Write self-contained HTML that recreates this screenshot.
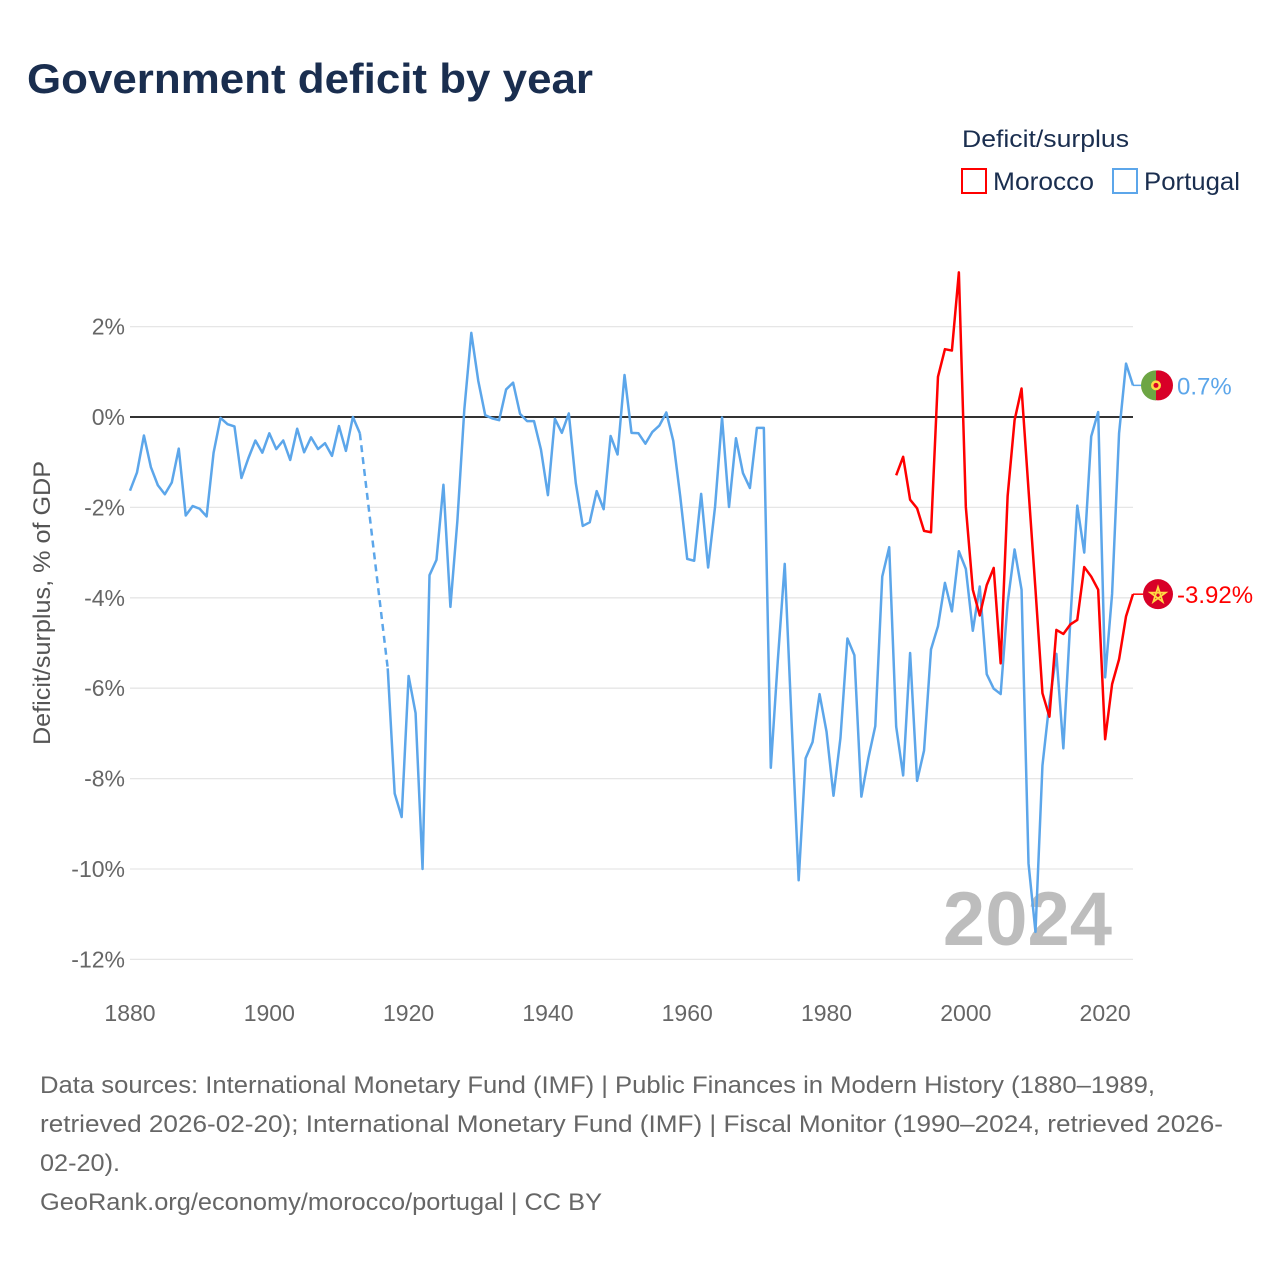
<!DOCTYPE html>
<html><head><meta charset="utf-8">
<style>
html,body{margin:0;padding:0;background:#fff;width:1280px;height:1280px;overflow:hidden;font-family:"Liberation Sans",sans-serif;}
svg text{font-family:"Liberation Sans",sans-serif;}
</style></head>
<body>
<svg id="chart" width="1280" height="1280" viewBox="0 0 1280 1280" xmlns="http://www.w3.org/2000/svg">
  <text x="27" y="93" font-size="42" font-weight="bold" fill="#1a2e4f" textLength="566" lengthAdjust="spacingAndGlyphs">Government deficit by year</text>
  <text x="962" y="147" font-size="24" fill="#1a2e4f" textLength="167" lengthAdjust="spacingAndGlyphs">Deficit/surplus</text>
  <g>
    <rect x="962" y="169" width="24" height="24" fill="none" stroke="#ff0000" stroke-width="2"/>
    <text x="993" y="190" font-size="25" fill="#1a2e4f" textLength="101" lengthAdjust="spacingAndGlyphs">Morocco</text>
  </g>
  <g>
    <rect x="1113" y="169" width="24" height="24" fill="none" stroke="#5ca6ea" stroke-width="2"/>
    <text x="1144" y="190" font-size="25" fill="#1a2e4f" textLength="96" lengthAdjust="spacingAndGlyphs">Portugal</text>
  </g>
  <g id="grid"></g>
  <g id="yticks"></g>
  <g id="xticks"></g>
  <text x="0" y="0" transform="translate(50,603) rotate(-90)" text-anchor="middle" font-size="24" fill="#555" textLength="284" lengthAdjust="spacingAndGlyphs">Deficit/surplus, % of GDP</text>
  <text x="1112" y="945" text-anchor="end" font-size="76" font-weight="bold" fill="#bdbdbd">2024</text>
  <g id="series"></g>
  <g id="ends"></g>
  <g font-size="24" fill="#666">
    <text x="40" y="1093" textLength="1115" lengthAdjust="spacingAndGlyphs">Data sources: International Monetary Fund (IMF) | Public Finances in Modern History (1880–1989,</text>
    <text x="40" y="1132" textLength="1183" lengthAdjust="spacingAndGlyphs">retrieved 2026-02-20); International Monetary Fund (IMF) | Fiscal Monitor (1990–2024, retrieved 2026-</text>
    <text x="40" y="1171" textLength="80" lengthAdjust="spacingAndGlyphs">02-20).</text>
    <text x="40" y="1210" textLength="562" lengthAdjust="spacingAndGlyphs">GeoRank.org/economy/morocco/portugal | CC BY</text>
  </g>
</svg>
<script>
const yTicks = [2,0,-2,-4,-6,-8,-10,-12];
const xTicks = [1880,1900,1920,1940,1960,1980,2000,2020];
const portugalStart = 1880;
const portugalValues = [
-1.63,-1.23,-0.41,-1.11,-1.51,-1.71,-1.45,-0.70,-2.18,-1.97,
-2.03,-2.20,-0.79,-0.02,-0.16,-0.21,-1.35,-0.91,-0.52,-0.79,
-0.36,-0.71,-0.52,-0.95,-0.26,-0.78,-0.45,-0.71,-0.58,-0.86,
-0.20,-0.75,0.00,-0.36,null,null,null,-5.56,-8.33,-8.85,
-5.73,-6.55,-10.0,-3.50,-3.16,-1.50,-4.20,-2.30,0.17,1.86,
0.80,0.04,-0.03,-0.07,0.61,0.76,0.07,-0.09,-0.09,-0.72,
-1.73,-0.04,-0.35,0.08,-1.46,-2.41,-2.33,-1.64,-2.04,-0.42,
-0.83,0.93,-0.35,-0.36,-0.59,-0.33,-0.19,0.10,-0.53,-1.76,
-3.14,-3.18,-1.70,-3.33,-1.98,-0.01,-1.99,-0.47,-1.24,-1.57,
-0.24,-0.24,-7.76,-5.40,-3.25,-6.80,-10.25,-7.55,-7.19,-6.13,
-6.96,-8.38,-7.10,-4.90,-5.27,-8.40,-7.55,-6.84,-3.53,-2.88,
-6.85,-7.93,-5.22,-8.05,-7.38,-5.14,-4.63,-3.67,-4.30,-2.97,
-3.36,-4.73,-3.75,-5.69,-6.01,-6.13,-4.11,-2.93,-3.82,-9.88,
-11.39,-7.71,-6.32,-5.24,-7.33,-4.51,-1.96,-3.00,-0.43,0.11,
-5.76,-3.91,-0.36,1.18,0.70];
const moroccoStart = 1990;
const moroccoValues = [
-1.29,-0.88,-1.83,-2.02,-2.52,-2.55,0.89,1.50,1.47,3.20,
-1.99,-3.82,-4.39,-3.72,-3.34,-5.45,-1.75,-0.07,0.63,-1.61,
-3.82,-6.11,-6.63,-4.71,-4.80,-4.59,-4.49,-3.32,-3.53,-3.82,
-7.13,-5.91,-5.36,-4.41,-3.92];
const portugalLabel = "0.7%";
const moroccoLabel = "-3.92%";

const NS = "http://www.w3.org/2000/svg";
const X0 = 130, X1 = 1133, YR0 = 1880, YR1 = 2024;
const xs = yr => X0 + (yr - YR0) * (X1 - X0) / (YR1 - YR0);
const ys = v => 417 - v * 45.2;
function mk(tag, attrs, parent){ const e=document.createElementNS(NS,tag); for(const k in attrs) e.setAttribute(k,attrs[k]); parent.appendChild(e); return e; }

const grid = document.getElementById('grid');
const yg = document.getElementById('yticks');
yTicks.forEach(t=>{
  const l = mk('line',{x1:X0,x2:X1,y1:ys(t),y2:ys(t),stroke:t===0?'#333':'#e6e6e6','stroke-width':t===0?2:1.3},grid);
  
  
  const tx = mk('text',{x:125,y:ys(t)+8,'text-anchor':'end','font-size':23,fill:'#666'},yg);
  tx.textContent = t + '%';
  
  
});
const xg = document.getElementById('xticks');
xTicks.forEach(t=>{
  const tx = mk('text',{x:xs(t),y:1021,'text-anchor':'middle','font-size':23,fill:'#666'},xg);
  tx.textContent = t;
  
  
});

const sg = document.getElementById('series');
function drawSeries(start, vals, color, name){
  let seg = [], lastPt = null, gap = false;
  const segs = [], dashes = [];
  vals.forEach((v,i)=>{
    if(v===null){ if(seg.length){segs.push(seg); seg=[];} gap=true; return; }
    const p=[xs(start+i), ys(v)];
    if(gap && lastPt){ dashes.push([lastPt,p]); gap=false; }
    seg.push(p); lastPt=p;
  });
  if(seg.length) segs.push(seg);
  segs.forEach(s=>{
    const pl = mk('polyline',{points:s.map(p=>p.join(',')).join(' '),fill:'none',stroke:color,'stroke-width':2.5,'stroke-linejoin':'round'},sg);
    
    
  });
  dashes.forEach(d=>{
    const dl = mk('line',{x1:d[0][0],y1:d[0][1],x2:d[1][0],y2:d[1][1],stroke:color,'stroke-width':2.5,'stroke-dasharray':'7,5'},sg);
    
    
  });
}
drawSeries(portugalStart, portugalValues, '#5ca6ea', 'portugal');
drawSeries(moroccoStart, moroccoValues, '#ff0000', 'morocco');

const eg = document.getElementById('ends');
function endMarker(v, color, label, name, flag){
  const y = ys(v), cx = 1158;
  mk('line',{x1:X1,x2:cx-15,y1:y,y2:y,stroke:color,'stroke-width':1.5},eg);
  const g = mk('g',{},eg);
  
  
  if(flag==='pt'){
    mk('circle',{cx:cx,cy:y,r:15,fill:'#d80027'},g);
    mk('path',{d:`M${cx-2} ${y-15} A15 15 0 0 0 ${cx-2} ${y+15} Z`,fill:'#6da544'},g);
    mk('circle',{cx:cx-2,cy:y,r:5,fill:'#ffda44'},g);
    mk('circle',{cx:cx-2,cy:y,r:2.5,fill:'#d80027'},g);
  } else {
    mk('circle',{cx:cx,cy:y,r:15,fill:'#d80027'},g);
    const pts=[];for(let i=0;i<5;i++){const a=-Math.PI/2+i*4*Math.PI/5;pts.push((cx+8*Math.cos(a)).toFixed(1)+','+(y+1+8*Math.sin(a)).toFixed(1));}
    mk('polygon',{points:pts.join(' '),fill:'none',stroke:'#ffda44','stroke-width':1.8},g);
  }
  const t = mk('text',{x:1177,y:y+9,'font-size':24,fill:color},eg);
  t.textContent = label;
  
  
}
endMarker(portugalValues[portugalValues.length-1], '#5ca6ea', portugalLabel, 'portugal', 'pt');
endMarker(moroccoValues[moroccoValues.length-1], '#ff0000', moroccoLabel, 'morocco', 'ma');
</script>
</body></html>
